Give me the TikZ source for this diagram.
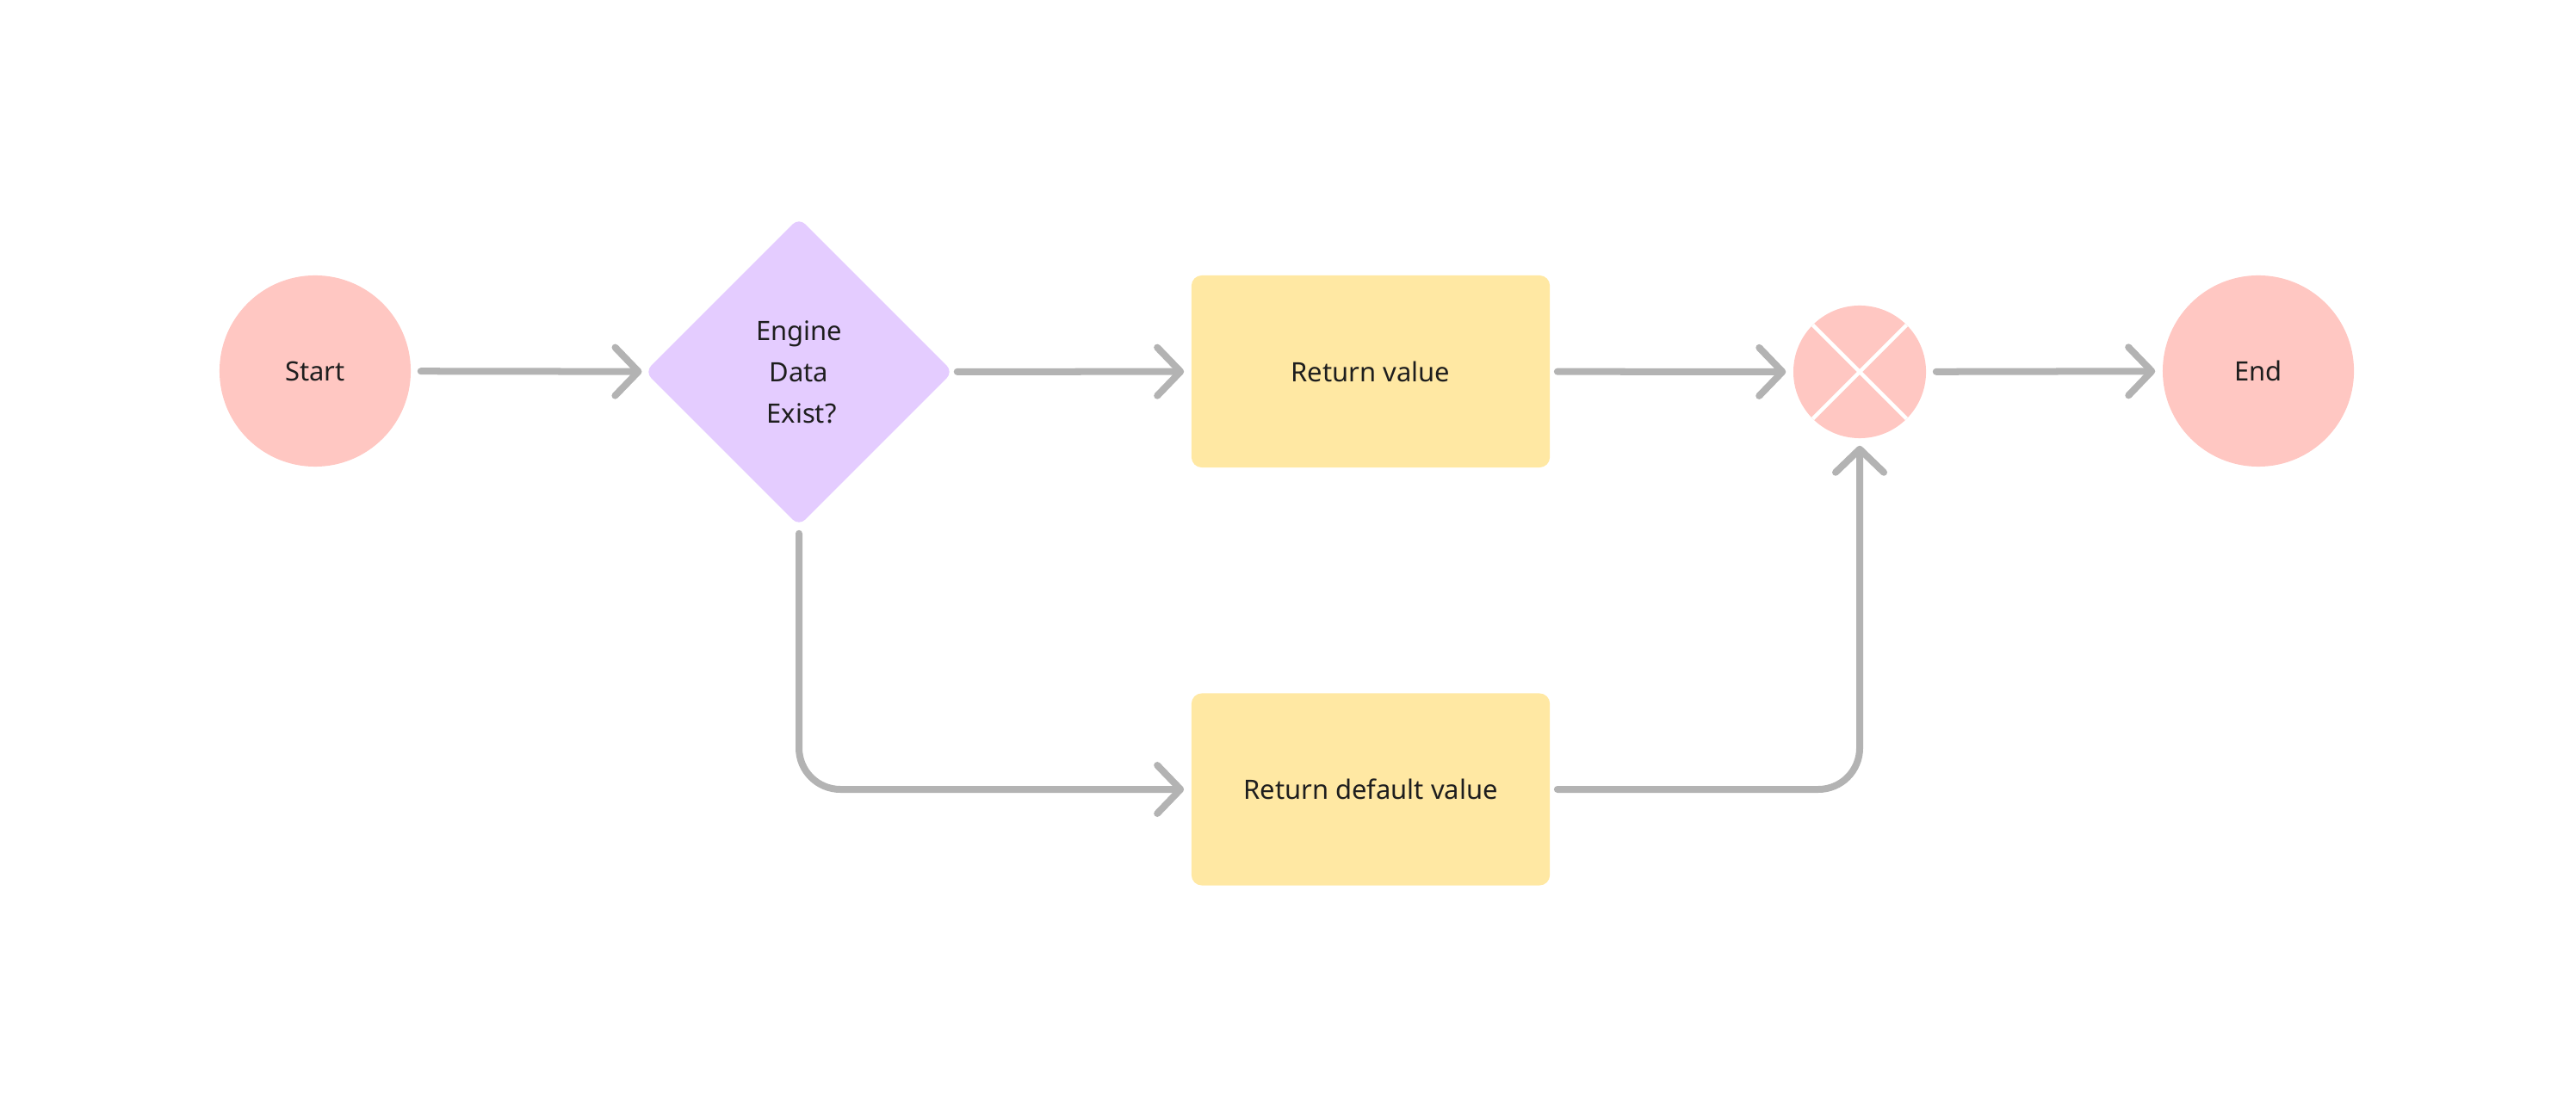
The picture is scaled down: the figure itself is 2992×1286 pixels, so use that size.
\documentclass[tikz,border=0pt]{standalone}
\usepackage{fontspec}
\setmainfont{Noto Sans}
\usetikzlibrary{shapes.geometric,arrows.meta,calc}
\definecolor{cred}{HTML}{FFC7C2}
\definecolor{cviolet}{HTML}{E4CCFF}
\definecolor{cyellow}{HTML}{FFE8A3}
\definecolor{cgray}{HTML}{B3B3B3}
\definecolor{ctext}{HTML}{1E1E1E}
\begin{document}
\begin{tikzpicture}[x=0.01cm,y=-0.01cm,
  every node/.style={font=\fontsize{8.8pt}{13.7pt}\selectfont, text=ctext},
  terminal/.style={circle, fill=cred, minimum size=2.22cm, inner sep=0pt},
  decision/.style={diamond, aspect=1, fill=cviolet, minimum width=3.58cm, minimum height=3.58cm, inner sep=0pt, rounded corners=0.1cm, align=center},
  taskbox/.style={rectangle, fill=cyellow, minimum width=4.16cm, minimum height=2.23cm, rounded corners=0.12cm},
  gateway/.style={circle, fill=cred, minimum size=1.54cm, inner sep=0pt},
  flow/.style={draw=cgray, line width=0.08cm, line cap=round, line join=round,
    -{Straight Barb[length=0.27cm, width=0.56cm, round]},
    shorten <=0.08cm, shorten >=0.08cm}
]
\useasboundingbox (0,0) rectangle (2992,1286);
\node[terminal] (start) at (366,431) {Start};
\node[decision] (dec) at (928,432) {Engine\\Data\\\hspace{0.2em}Exist?};
\node[taskbox] (rv) at (1592,431.5) {Return value};
\node[taskbox] (rdv) at (1592,917) {Return default value};
\node[gateway] (gw) at (2160,432) {};
\node[terminal] (end) at (2623,431) {End};
% gateway cross
\begin{scope}
\clip (gw.center) circle (0.77cm);
\draw[white, line width=0.045cm] ($(gw.center)+(-60,-60)$) -- ($(gw.center)+(60,60)$);
\draw[white, line width=0.045cm] ($(gw.center)+(-60,60)$) -- ($(gw.center)+(60,-60)$);
\end{scope}
\draw[flow, shorten <=0.11cm, shorten >=0.03cm] (start) -- (dec);
\draw[flow, shorten <=0.04cm] (dec) -- (rv);
\draw[flow] (rv) -- (gw);
\draw[flow, shorten <=0.11cm] (gw) -- (end);
\draw[flow, rounded corners=0.48cm] (dec.south) |- (rdv.west);
\draw[flow, rounded corners=0.48cm] (rdv.east) -| (gw.south);
\end{tikzpicture}
\end{document}
